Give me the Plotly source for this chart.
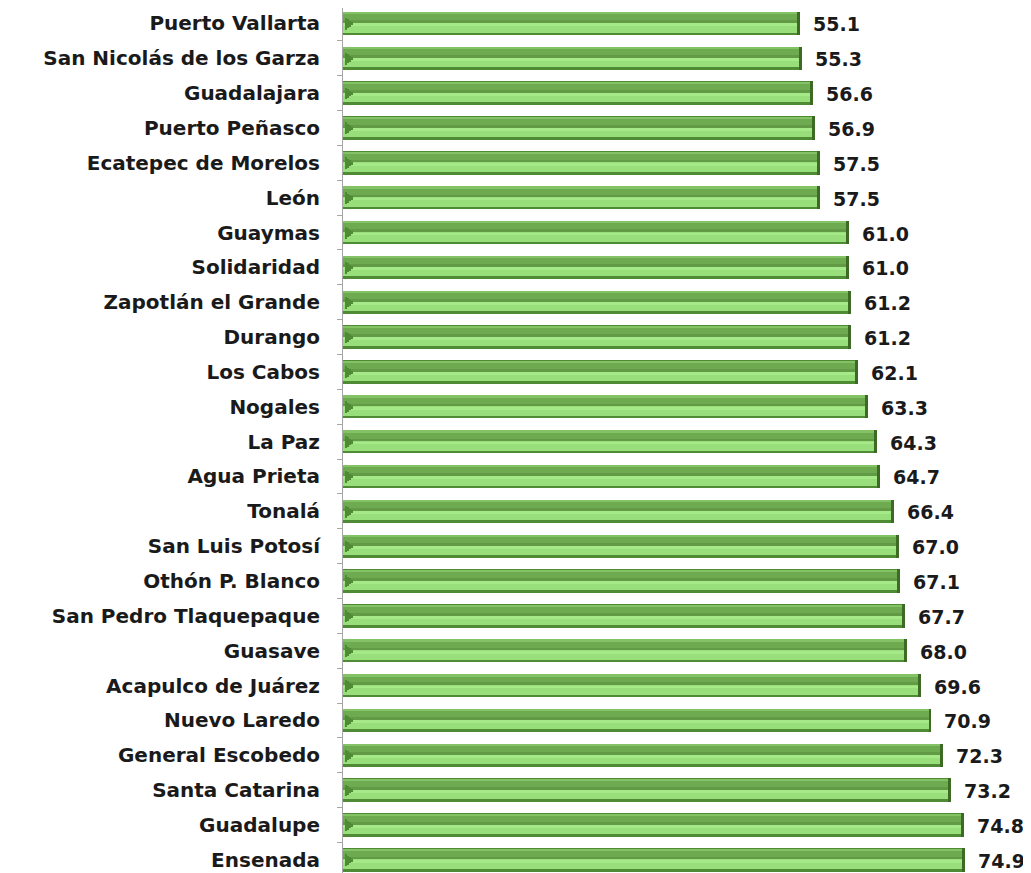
import plotly.graph_objects as go

municipios = [
    "Puerto Vallarta", "San Nicolás de los Garza", "Guadalajara", "Puerto Peñasco",
    "Ecatepec de Morelos", "León", "Guaymas", "Solidaridad", "Zapotlán el Grande",
    "Durango", "Los Cabos", "Nogales", "La Paz", "Agua Prieta", "Tonalá",
    "San Luis Potosí", "Othón P. Blanco", "San Pedro Tlaquepaque", "Guasave",
    "Acapulco de Juárez", "Nuevo Laredo", "General Escobedo", "Santa Catarina",
    "Guadalupe", "Ensenada",
]
valores = [
    55.1, 55.3, 56.6, 56.9, 57.5, 57.5, 61.0, 61.0, 61.2, 61.2, 62.1, 63.3, 64.3,
    64.7, 66.4, 67.0, 67.1, 67.7, 68.0, 69.6, 70.9, 72.3, 73.2, 74.8, 74.9,
]

FONT = "DejaVu Sans"
n = len(valores)


def band(width, offset, color, x=None, base=None):
    return go.Bar(y=municipios, x=x if x is not None else valores, base=base,
                  orientation="h", width=[width] * n, offset=[offset] * n,
                  marker=dict(color=color, line=dict(width=0)),
                  hoverinfo="skip", showlegend=False)


fig = go.Figure()
fig.add_trace(band(0.67, -0.335, "#4f8a35"))      # dark outline
fig.add_trace(band(0.29, -0.30, "#6eab50"))       # upper medium band
fig.add_trace(band(0.05, -0.31, "#84c266"))       # thin top highlight
fig.add_trace(band(0.08, -0.09, "#629a45"))       # darker middle stripe
fig.add_trace(band(0.27, -0.01, "#98de7a"))       # lower light band
fig.add_trace(band(0.08, 0.0, "#a6e988"))         # lower highlight

# left bevel: small right-pointing wedge built as a staircase
for h, length in [(0.34, 0.25), (0.26, 0.5), (0.17, 0.75), (0.09, 1.0)]:
    fig.add_trace(band(h, 0.01 - h / 2, "#4f8a35", x=[length] * n, base=[0.2] * n))

# dark right edge
edge = 0.35
fig.add_trace(band(0.67, -0.335, "#3d6b26", x=[edge] * n,
                   base=[v - edge for v in valores]))

for m, v in zip(municipios, valores):
    fig.add_annotation(x=v, y=m, text=f"{v:.1f}", showarrow=False,
                       xanchor="left", yanchor="middle", xshift=11, yshift=-1,
                       font=dict(family=FONT, size=19, color="#1a1a1a", weight="bold"))

# page body adds an 8px offset; figure is sized to fill the rest of the window
fig.update_layout(
    width=1023, height=865,
    margin=dict(l=335, r=0, t=0, b=0),
    paper_bgcolor="white", plot_bgcolor="white",
    barmode="overlay", bargap=0,
    showlegend=False,
    xaxis=dict(range=[0, 82.9], visible=False, showgrid=False, zeroline=False),
    yaxis=dict(
        type="category", range=[24.378, -0.443],
        showline=True, linecolor="#a6a6a6", linewidth=1,
        ticks="outside", tickson="boundaries", ticklen=5, tickcolor="#a6a6a6",
        ticklabelstandoff=18, automargin=False, showgrid=False,
        tickfont=dict(family=FONT, size=20, color="#1a1a1a", weight="bold"),
    ),
)

fig.write_html("out.html")
